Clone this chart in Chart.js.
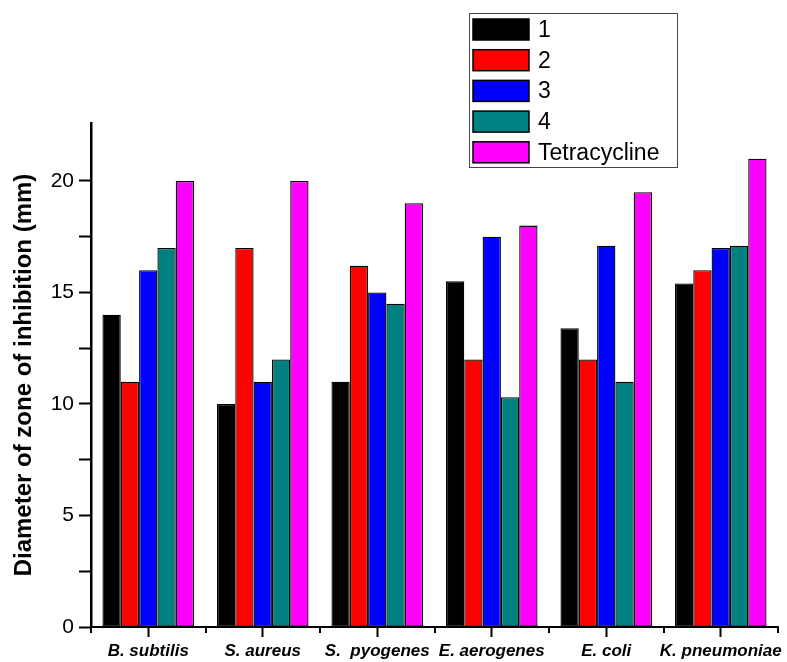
<!DOCTYPE html>
<html>
<head>
<meta charset="utf-8">
<script src="https://cdn.jsdelivr.net/npm/chart.js@4/dist/chart.umd.min.js"></script>
<style>
  html, body { margin: 0; padding: 0; background: #fff; }
  #wrap { width: 787px; height: 662px; }
</style>
</head>
<body>
<div id="wrap"><canvas id="chart" width="787" height="662"></canvas></div>
<script>
// bacteria on the x axis
const strains = ['B. subtilis', 'S. aureus', 'S.  pyogenes', 'E. aerogenes', 'E. coli', 'K. pneumoniae']

// zone of inhibition (mm) per compound
const compound1 = [14, 10, 11, 15.5, 13.4, 15.4]
const compound2 = [11, 17, 16.2, 12, 12, 16]
const compound3 = [16, 11, 15, 17.5, 17.1, 17]
const compound4 = [17, 12, 14.5, 10.3, 11, 17.1]
const tetracycline = [20, 20, 19, 18, 19.5, 21]

const seriesNames = ['1', '2', '3', '4', 'Tetracycline']
const seriesColors = ['#000000', '#ff0000', '#0000ff', '#008080', '#ff00ff']

const FONT = '"Liberation Sans", Arial, sans-serif'

// legend box drawn inside the plot, upper right
const boxLegend = {
  id: 'boxLegend',
  afterDraw(chart) {
    const ctx = chart.ctx
    const x0 = 469, y0 = 13, w = 208, h = 154
    ctx.save()
    ctx.fillStyle = '#fff'
    ctx.fillRect(x0, y0, w, h)
    ctx.strokeStyle = '#444'
    ctx.lineWidth = 1
    ctx.strokeRect(x0 + 0.5, y0 + 0.5, w, h)
    ctx.font = '23px ' + FONT
    ctx.textBaseline = 'middle'
    chart.data.datasets.forEach((ds, i) => {
      const cy = 29.5 + i * 30.7
      ctx.fillStyle = ds.backgroundColor
      ctx.fillRect(473, cy - 10.5, 56, 21)
      ctx.strokeStyle = '#000'
      ctx.lineWidth = 1.5
      ctx.strokeRect(473, cy - 10.5, 56, 21)
      ctx.fillStyle = '#000'
      ctx.fillText(ds.label, 538, cy + 1)
    })
    ctx.restore()
  }
}

// short ticks at the category boundaries on the x axis
const boundaryTicks = {
  id: 'boundaryTicks',
  afterDraw(chart) {
    const xs = chart.scales.x
    const ctx = chart.ctx
    const half = (xs.getPixelForTick(1) - xs.getPixelForTick(0)) / 2
    ctx.save()
    ctx.strokeStyle = '#000'
    ctx.lineWidth = 2
    for (let i = 0; i <= strains.length; i++) {
      const px = Math.round(xs.getPixelForTick(0) - half + i * 2 * half)
      ctx.beginPath()
      ctx.moveTo(px, xs.top)
      ctx.lineTo(px, xs.top + 6)
      ctx.stroke()
    }
    ctx.restore()
  }
}

const values = [compound1, compound2, compound3, compound4, tetracycline]

new Chart(document.getElementById('chart'), {
  type: 'bar',
  data: {
    labels: strains,
    datasets: values.map((v, i) => ({
      label: seriesNames[i],
      data: v,
      backgroundColor: seriesColors[i],
      borderColor: '#000',
      borderWidth: 1.3,
      borderSkipped: false,
      categoryPercentage: 0.8,
      barPercentage: 1.0
    }))
  },
  options: {
    responsive: false,
    animation: false,
    layout: { padding: { top: 123, right: 9, left: 0, bottom: 0 } },
    plugins: {
      legend: { display: false },
      tooltip: { enabled: false }
    },
    scales: {
      x: {
        afterFit(scale) { scale.height = 35 },
        border: { color: '#000', width: 2 },
        grid: {
          drawOnChartArea: false,
          offset: false,
          tickLength: 10,
          tickColor: '#000',
          tickWidth: 2
        },
        ticks: {
          color: '#000',
          padding: 4,
          maxRotation: 0,
          autoSkip: false,
          font: { family: FONT, size: 17, weight: 'bold', style: 'italic' }
        }
      },
      y: {
        min: 0,
        max: 22.6,
        afterFit(scale) { scale.width = 91 },
        border: { color: '#000', width: 2.5 },
        grid: {
          drawOnChartArea: false,
          tickLength: 12,
          tickWidth: 2,
          tickColor: c => (c.tick && Math.abs(c.tick.value / 2.5 - Math.round(c.tick.value / 2.5)) < 1e-6) ? '#000' : 'rgba(0,0,0,0)'
        },
        ticks: {
          stepSize: 2.5,
          color: '#000',
          padding: 5,
          font: { family: FONT, size: 21 },
          callback: v => (v % 5 === 0 ? v : '')
        },
        title: {
          display: true,
          text: 'Diameter of zone of inhibition (mm)',
          color: '#000',
          padding: { top: 10, bottom: 0 },
          font: { family: FONT, size: 24, weight: 'bold' }
        }
      }
    }
  },
  plugins: [boxLegend, boundaryTicks]
})
</script>
</body>
</html>
